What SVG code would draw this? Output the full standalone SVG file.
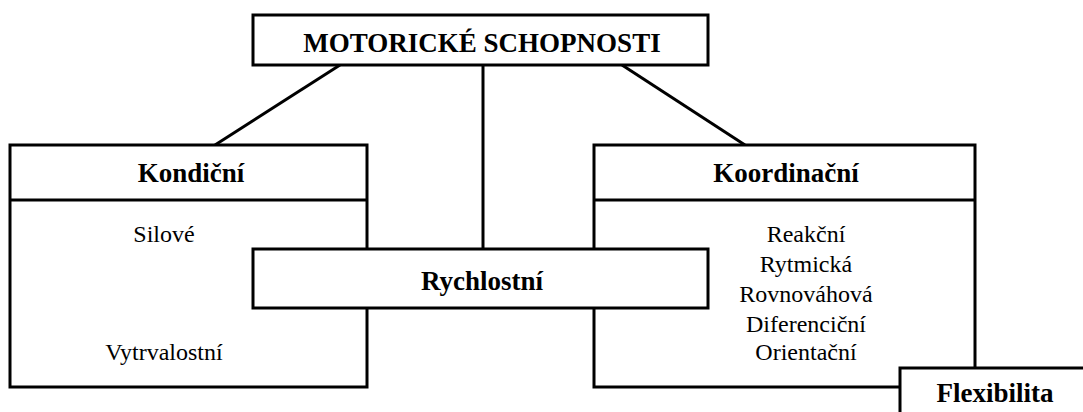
<svg xmlns="http://www.w3.org/2000/svg" width="1083" height="412" viewBox="0 0 1083 412">
<style>
.box{fill:#fff;stroke:#000;stroke-width:3}
.ln{stroke:#000;stroke-width:3;fill:none}
text{font-family:'Liberation Serif','Times New Roman','DejaVu Serif',serif;text-anchor:middle;fill:#000}
.b{font-weight:bold;font-size:27px}
.n{font-size:24px}
</style>
<rect width="1083" height="412" fill="#fff"/>
<g id="connectors">
<line class="ln" x1="340" y1="65" x2="215" y2="145"/>
<line class="ln" x1="483" y1="65" x2="483" y2="249"/>
<line class="ln" x1="622" y1="65" x2="745" y2="145"/>
</g>
<g id="kondicni">
<rect class="box" x="10" y="145" width="357" height="242"/>
<line class="ln" x1="10" y1="200" x2="367" y2="200"/>
<text class="b" x="191" y="182">Kondiční</text>
<text class="n" x="164" y="242">Silové</text>
<text class="n" x="164" y="360">Vytrvalostní</text>
</g>
<g id="koordinacni">
<rect class="box" x="594" y="145" width="381" height="242"/>
<line class="ln" x1="594" y1="200" x2="975" y2="200"/>
<text class="b" x="786" y="182">Koordinační</text>
<text class="n" x="806" y="242">Reakční</text>
<text class="n" x="806" y="272">Rytmická</text>
<text class="n" x="806" y="302">Rovnováhová</text>
<text class="n" x="806" y="332">Diferenciční</text>
<text class="n" x="806" y="360">Orientační</text>
</g>
<g id="motoricke">
<rect class="box" x="253" y="15" width="455" height="50"/>
<text class="b" x="482" y="52">MOTORICKÉ SCHOPNOSTI</text>
</g>
<g id="rychlostni">
<rect class="box" x="253" y="249" width="455" height="59"/>
<text class="b" x="482" y="290">Rychlostní</text>
</g>
<g id="flexibilita">
<rect class="box" x="900" y="368" width="200" height="60"/>
<text class="b" x="995" y="402">Flexibilita</text>
</g>
</svg>
